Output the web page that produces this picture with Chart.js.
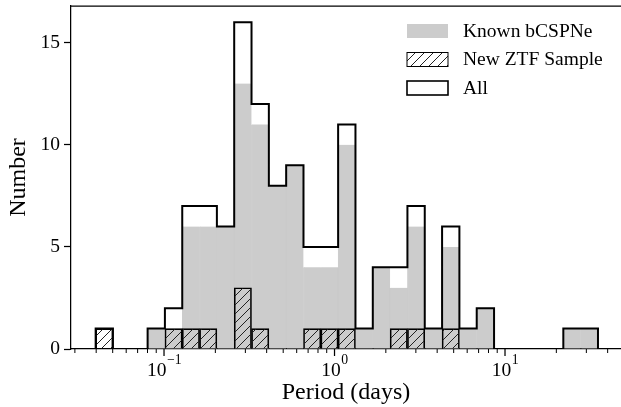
<!DOCTYPE html>
<html>
<head>
<meta charset="utf-8">
<script src="https://cdn.jsdelivr.net/npm/chart.js@4.4.1/dist/chart.umd.min.js"></script>
<style>
  html, body { margin: 0; padding: 0; background: #fff; }
  #wrap { width: 621px; height: 407px; }
</style>
</head>
<body>
<div id="wrap"><canvas id="myChart"></canvas></div>
<script>
// histogram bin edges in days (29 bins, equal steps in log period)
var binEdges = [0.03972, 0.05017, 0.06342, 0.08013, 0.1012, 0.1279, 0.1616, 0.2042,
    0.2580, 0.3260, 0.4120, 0.5205, 0.6577, 0.8312, 1.050, 1.327, 1.677, 2.119,
    2.677, 3.383, 4.275, 5.401, 6.825, 8.625, 10.90, 13.77, 17.39, 21.98, 27.77, 35.10];

// counts per bin
var knownCounts = [0, 0, 0, 1, 1, 6, 6, 6, 13, 11, 8, 9, 4, 4, 10, 1, 4, 3, 6, 1, 5, 1, 2, 0, 0, 0, 0, 1, 1];
var ztfCounts   = [1, 0, 0, 0, 1, 1, 1, 0, 3, 1, 0, 0, 1, 1, 1, 0, 0, 1, 1, 0, 1, 0, 0, 0, 0, 0, 0, 0, 0];
var allCounts   = [1, 0, 0, 1, 2, 7, 7, 6, 16, 12, 8, 9, 5, 5, 11, 1, 4, 4, 7, 1, 6, 1, 2, 0, 0, 0, 0, 1, 1];

var seriesLabels = ["Known bCSPNe", "New ZTF Sample", "All"];

var xMajorTicks = [0.1, 1, 10];
var xTickExponents = ["\u22121", "0", "1"];
var xMinorTicks = [0.03, 0.04, 0.05, 0.06, 0.07, 0.08, 0.09,
    0.2, 0.3, 0.4, 0.5, 0.6, 0.7, 0.8, 0.9,
    2, 3, 4, 5, 6, 7, 8, 9, 20, 30, 40];
var yTickValues = [0, 5, 10, 15];

var FONT = "'Liberation Serif', 'DejaVu Serif', serif";
var GRAY = "#cccccc";

Chart.defaults.font.family = FONT;
Chart.defaults.color = "#000";

function makeHatch() {
    var s = 9;
    var c = document.createElement("canvas");
    c.width = s;
    c.height = s;
    var g = c.getContext("2d");
    g.strokeStyle = "#222";
    g.lineWidth = 1;
    g.beginPath();
    g.moveTo(0, s); g.lineTo(s, 0);
    g.moveTo(-1, 1); g.lineTo(1, -1);
    g.moveTo(s - 1, s + 1); g.lineTo(s + 1, s - 1);
    g.stroke();
    return document.createElement("canvas").getContext("2d").createPattern(c, "repeat");
}
var hatch = makeHatch();

// bars sit at the geometric centre of each bin
function barData(counts) {
    var out = [];
    for (var i = 0; i < counts.length; i++) {
        out.push({
            x: Math.sqrt(binEdges[i] * binEdges[i + 1]),
            y: counts[i] > 0 ? counts[i] : null
        });
    }
    return out;
}

function stepData(counts) {
    var out = [{ x: binEdges[0], y: 0 }];
    for (var i = 0; i < counts.length; i++) {
        out.push({ x: binEdges[i], y: counts[i] });
    }
    out.push({ x: binEdges[binEdges.length - 1], y: 0 });
    return out;
}

var framePlugin = {
    id: "frame",
    afterDraw: function (chart) {
        var ctx = chart.ctx;
        var ca = chart.chartArea;
        var xs = chart.scales.x;
        ctx.save();
        // top spine
        ctx.strokeStyle = "#000";
        ctx.lineWidth = 1.25;
        ctx.beginPath();
        ctx.moveTo(ca.left, ca.top);
        ctx.lineTo(ca.right, ca.top);
        ctx.stroke();
        // x tick marks and 10^n labels
        ctx.fillStyle = "#000";
        ctx.textAlign = "left";
        ctx.textBaseline = "alphabetic";
        xMajorTicks.forEach(function (v, i) {
            var px = xs.getPixelForValue(v);
            ctx.beginPath();
            ctx.moveTo(px, ca.bottom);
            ctx.lineTo(px, ca.bottom + 7);
            ctx.stroke();
            ctx.font = "19.5px " + FONT;
            var w1 = ctx.measureText("10").width;
            ctx.font = "13.7px " + FONT;
            var w2 = ctx.measureText(xTickExponents[i]).width;
            var x0 = px - (w1 + w2) / 2;
            ctx.font = "19.5px " + FONT;
            ctx.fillText("10", x0, ca.bottom + 27);
            ctx.font = "13.7px " + FONT;
            ctx.fillText(xTickExponents[i], x0 + w1 + 0.5, ca.bottom + 15);
        });
        ctx.lineWidth = 1;
        xMinorTicks.forEach(function (v) {
            var px = xs.getPixelForValue(v);
            if (px < ca.left || px > ca.right) return;
            ctx.beginPath();
            ctx.moveTo(px, ca.bottom);
            ctx.lineTo(px, ca.bottom + 4);
            ctx.stroke();
        });

        // legend
        var bx = ca.right - 214, bw = 41, bh = 14;
        var rows = [ca.top + 25, ca.top + 53.5, ca.top + 82];
        ctx.fillStyle = GRAY;
        ctx.fillRect(bx, rows[0] - bh / 2, bw, bh);
        ctx.fillStyle = hatch;
        ctx.fillRect(bx, rows[1] - bh / 2, bw, bh);
        ctx.lineWidth = 1;
        ctx.strokeRect(bx, rows[1] - bh / 2, bw, bh);
        ctx.fillStyle = "#fff";
        ctx.fillRect(bx, rows[2] - bh / 2, bw, bh);
        ctx.lineWidth = 1.6;
        ctx.strokeRect(bx, rows[2] - bh / 2, bw, bh);
        ctx.fillStyle = "#000";
        ctx.font = "19.5px " + FONT;
        ctx.textBaseline = "middle";
        for (var i = 0; i < seriesLabels.length; i++) {
            ctx.fillText(seriesLabels[i], ca.right - 158, rows[i] + 0.5);
        }
        ctx.restore();
    }
};

var config = {
    type: "bar",
    data: {
        datasets: [
            {
                label: seriesLabels[0],
                data: barData(knownCounts),
                backgroundColor: GRAY,
                borderColor: "rgba(110,110,110,0.35)",
                borderWidth: { left: 1, top: 0, right: 0, bottom: 0 },
                grouped: false,
                barPercentage: 1,
                categoryPercentage: 1,
                order: 3
            },
            {
                label: seriesLabels[1],
                data: barData(ztfCounts),
                backgroundColor: hatch,
                borderColor: "#000",
                borderWidth: 1,
                grouped: false,
                barPercentage: 1,
                categoryPercentage: 1,
                order: 2
            },
            {
                type: "line",
                label: seriesLabels[2],
                data: stepData(allCounts),
                stepped: "before",
                borderColor: "#000",
                borderWidth: 2,
                borderJoinStyle: "miter",
                pointRadius: 0,
                fill: false,
                order: 1
            }
        ]
    },
    options: {
        responsive: true,
        maintainAspectRatio: false,
        animation: false,
        layout: { padding: { top: 6, right: 0, left: 0, bottom: 0 } },
        plugins: {
            legend: { display: false },
            tooltip: { enabled: false }
        },
        scales: {
            x: {
                type: "logarithmic",
                min: 0.02847,
                max: 47.9,
                offset: false,
                afterBuildTicks: function (s) {
                    s.ticks = xMajorTicks.map(function (v) { return { value: v, major: true }; });
                },
                afterFit: function (s) {
                    s.height = 58;
                    s.paddingLeft = 0;
                    s.paddingRight = 0;
                },
                ticks: {
                    autoSkip: false,
                    maxRotation: 0,
                    minRotation: 0,
                    // labels are drawn by the frame plugin with raised exponents
                    callback: function () { return ""; }
                },
                grid: { display: false, offset: false, drawTicks: true, tickLength: 7 },
                border: { display: true, color: "#000", width: 1.25 },
                title: {
                    display: true,
                    text: "Period (days)",
                    font: { size: 24 },
                    padding: { top: 4, bottom: 0 }
                }
            },
            y: {
                type: "linear",
                min: 0,
                max: 16.8,
                afterBuildTicks: function (s) {
                    s.ticks = yTickValues.map(function (v) { return { value: v }; });
                },
                afterFit: function (s) {
                    s.width = 71;
                    s.paddingTop = 0;
                    s.paddingBottom = 0;
                },
                ticks: {
                    padding: 4,
                    font: { size: 19.5 }
                },
                grid: {
                    display: true,
                    drawOnChartArea: false,
                    drawTicks: true,
                    tickLength: 7,
                    tickColor: "#000",
                    tickWidth: 1.25
                },
                border: { display: true, color: "#000", width: 1.25 },
                title: {
                    display: true,
                    text: "Number",
                    font: { size: 24 },
                    padding: { top: 4, bottom: 0 }
                }
            }
        }
    },
    plugins: [framePlugin]
};

window.onload = function () {
    var ctx = document.getElementById("myChart").getContext("2d");
    var myChart = new Chart(ctx, config);
};
</script>
</body>
</html>
